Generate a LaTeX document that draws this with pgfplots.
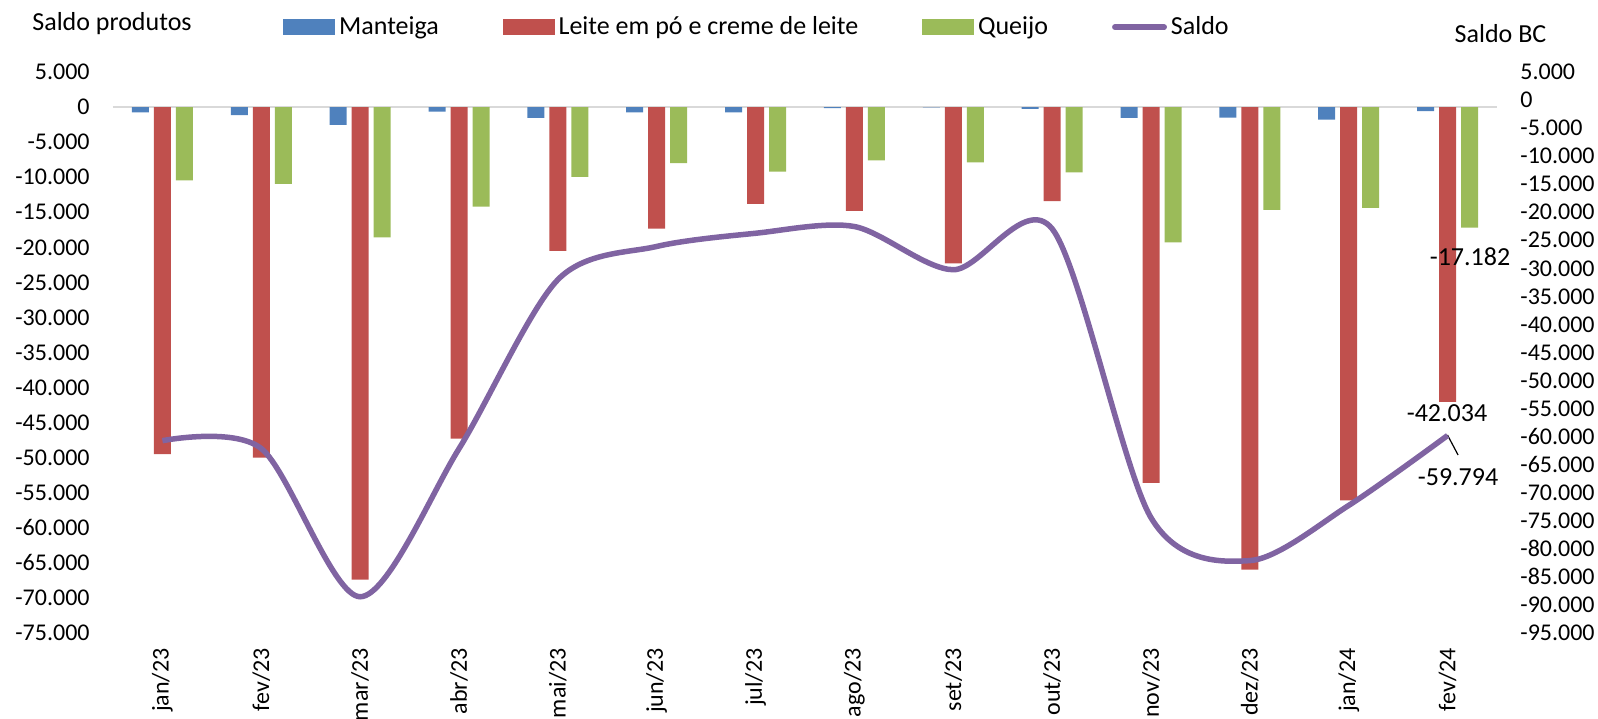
\documentclass[border=0pt]{standalone}
\usepackage{fontspec}
\setmainfont{Carlito}
\usepackage{pgfplots}
\usepackage{pgfplotstable}
\pgfplotsset{compat=1.18}
\definecolor{cBlue}{HTML}{4F81BD}
\definecolor{cRed}{HTML}{C0504D}
\definecolor{cGreen}{HTML}{9BBB59}
\definecolor{cPurple}{HTML}{8064A2}
\definecolor{cZero}{HTML}{D9D9D9}

\pgfplotstableread{
x man lei que sal
0 -750 -49500 -10470 -60720
1 -1150 -50000 -10970 -62120
2 -2540 -67400 -18600 -88540
3 -650 -47300 -14200 -62150
4 -1550 -20500 -9970 -32020
5 -750 -17350 -8000 -26100
6 -750 -13800 -9200 -23750
7 -150 -14800 -7600 -22550
8 -50 -22300 -7900 -30250
9 -250 -13400 -9300 -22950
10 -1550 -53600 -19300 -74450
11 -1500 -65950 -14650 -82100
12 -1800 -56100 -14360 -72260
13 -578 -42034 -17182 -59794
}\data

\begin{document}
\begin{tikzpicture}
\begin{axis}[
  scale only axis, width=692pt, height=280.5pt,
  xmin=-0.5, xmax=13.5, ymin=-75000, ymax=5000,
  ybar=2.5pt, bar width=8.5pt,
  axis line style={draw=none},
  major tick length=0pt,
  clip=false,
  xtick={0,1,2,3,4,5,6,7,8,9,10,11,12,13},
  xticklabels={jan/23,fev/23,mar/23,abr/23,mai/23,jun/23,jul/23,ago/23,set/23,out/23,nov/23,dez/23,jan/24,fev/24},
  x tick label style={yshift=-7.5pt, rotate=90, anchor=east, inner sep=0pt, font=\fontsize{12}{14}\selectfont},
  ytick={-75000,-70000,-65000,-60000,-55000,-50000,-45000,-40000,-35000,-30000,-25000,-20000,-15000,-10000,-5000,0,5000},
  scaled y ticks=false,
  /pgf/number format/fixed,
  /pgf/number format/1000 sep={.},
  /pgf/number format/assume math mode=true,
  y tick label style={anchor=east, inner sep=0pt, xshift=-11.5pt, font=\fontsize{12}{14}\selectfont},
]
\draw[cZero, line width=0.8pt] (axis cs:-0.5,0) -- (axis cs:13.5,0);
\addplot[fill=cBlue, draw=none] table[x=x,y=man]{\data};
\addplot[fill=cRed, draw=none] table[x=x,y=lei]{\data};
\addplot[fill=cGreen, draw=none] table[x=x,y=que]{\data};
\node[font=\fontsize{13}{15}\selectfont, inner sep=0pt] at (axis cs:13.227,-21381) {-17.182};
\node[font=\fontsize{13}{15}\selectfont, inner sep=0pt] at (axis cs:12.994,-43627) {-42.034};
\node[font=\fontsize{13}{15}\selectfont, inner sep=0pt] at (axis cs:13.106,-52754) {-59.794};
\draw[black, line width=0.6pt] (axis cs:12.999,-46765) -- (axis cs:13.106,-49617);
\node[anchor=west, font=\fontsize{13}{15}\selectfont, inner sep=0pt, xshift=-40.5pt, yshift=24.25pt] at (rel axis cs:0,1) {Saldo produtos};
\node[font=\fontsize{13}{15}\selectfont, inner sep=0pt, xshift=1.75pt, yshift=19pt] at (rel axis cs:1,1) {Saldo BC};
\coordinate (BL) at (rel axis cs:0,0);
\coordinate (TR) at (rel axis cs:1,1);
\end{axis}
\begin{axis}[
  scale only axis, width=692pt, height=280.5pt,
  xmin=-0.5, xmax=13.5, ymin=-95000, ymax=5000,
  axis x line=none, axis y line*=right,
  axis line style={draw=none},
  major tick length=0pt,
  xtick=\empty,
  ytick={-95000,-90000,-85000,-80000,-75000,-70000,-65000,-60000,-55000,-50000,-45000,-40000,-35000,-30000,-25000,-20000,-15000,-10000,-5000,0,5000},
  scaled y ticks=false,
  /pgf/number format/fixed,
  /pgf/number format/1000 sep={.},
  /pgf/number format/assume math mode=true,
  y tick label style={anchor=west, inner sep=0pt, xshift=11.5pt, font=\fontsize{12}{14}\selectfont},
  legend columns=4,
  legend style={at={(rel axis cs:0.1228,1.080)}, anchor=west, draw=none, fill=none, inner sep=0pt,
    font=\fontsize{13}{15}\selectfont,
    /tikz/every even column/.append style={column sep=30pt}},
]
\addlegendimage{legend image code/.code={\fill[cBlue] (0pt,-3.75pt) rectangle (25.5pt,3.75pt);}}
\addlegendimage{legend image code/.code={\fill[cRed] (0pt,-3.75pt) rectangle (25.5pt,3.75pt);}}
\addlegendimage{legend image code/.code={\fill[cGreen] (0pt,-3.75pt) rectangle (25.5pt,3.75pt);}}
\addlegendimage{legend image code/.code={\draw[cPurple, line width=2.75pt, line cap=round] (1.4pt,0pt) -- (26.1pt,0pt);}}
\addplot[cPurple, line width=2.75pt, smooth, forget plot] table[x=x,y=sal]{\data};
\legend{Manteiga, Leite em pó e creme de leite, Queijo, Saldo}
\end{axis}
\pgfresetboundingbox
\path[use as bounding box] ([xshift=-56.5pt,yshift=-43pt]BL) rectangle ([xshift=50.5pt,yshift=36pt]TR);
\end{tikzpicture}
\end{document}
